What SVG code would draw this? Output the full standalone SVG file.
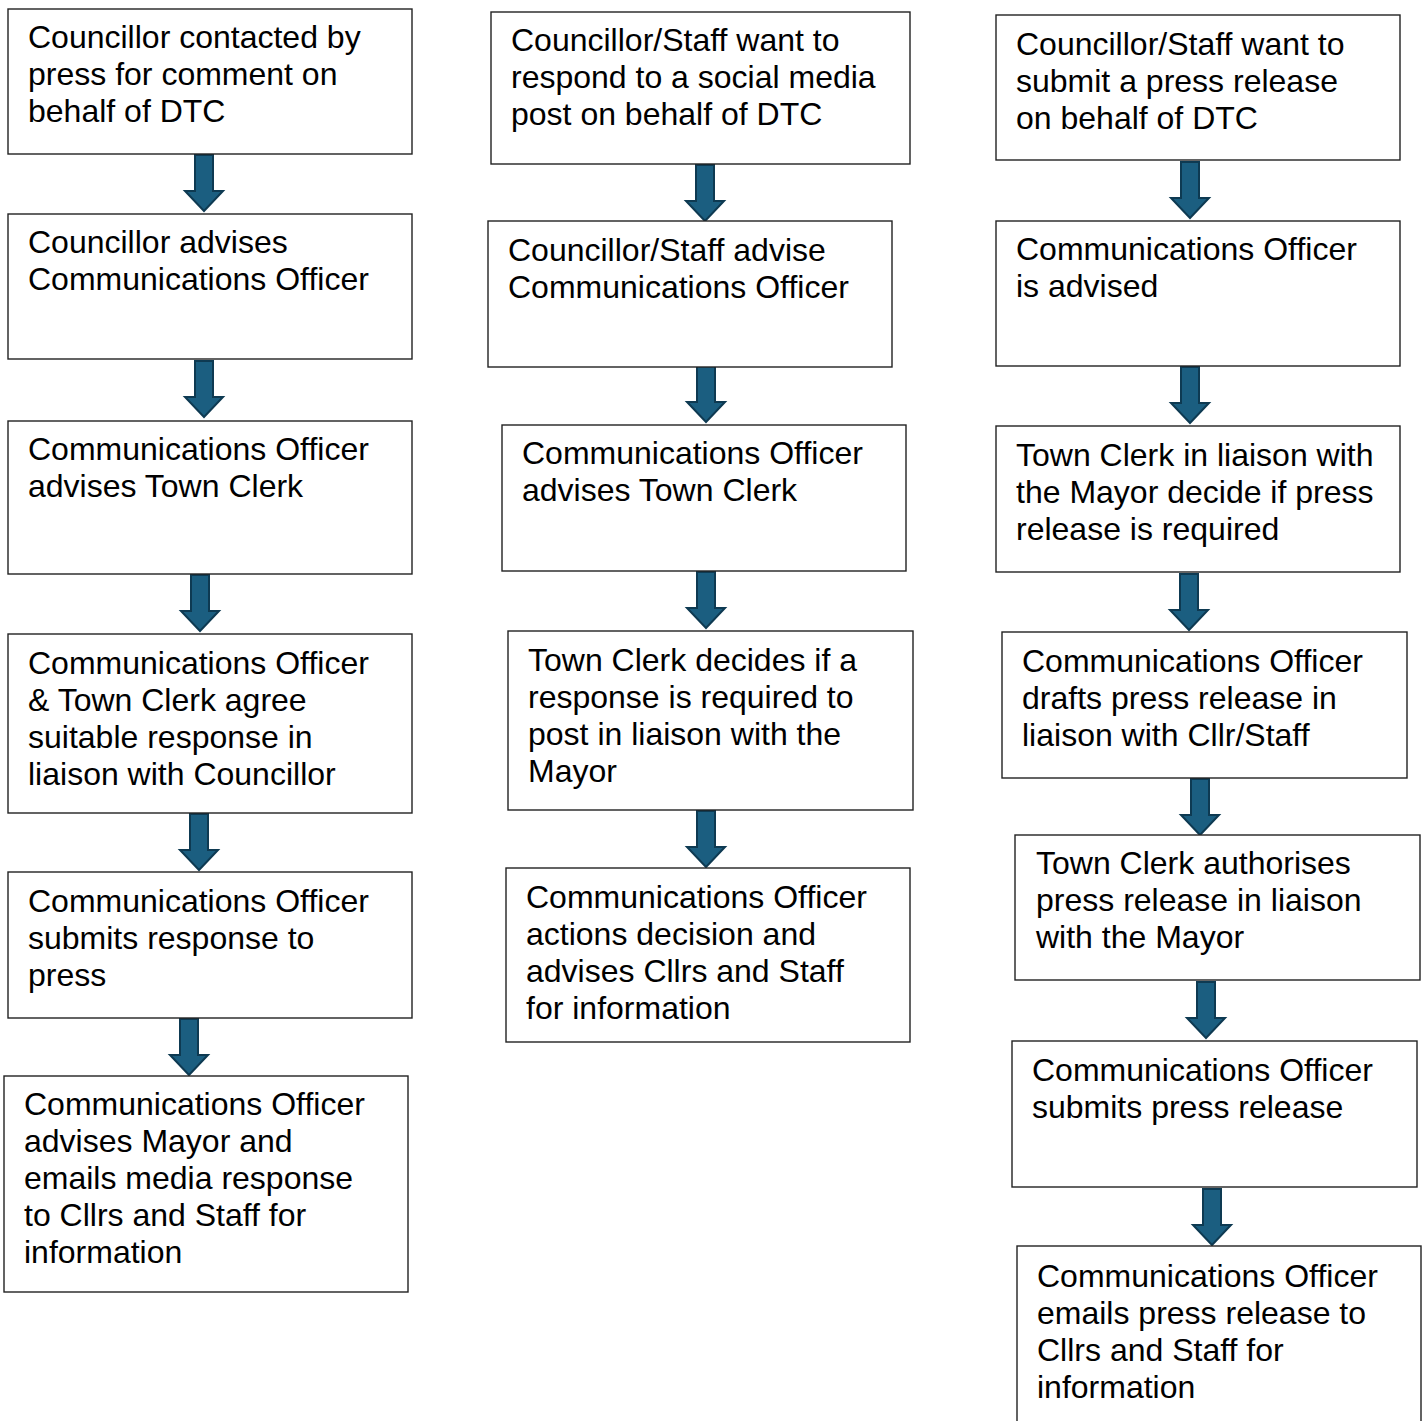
<svg xmlns="http://www.w3.org/2000/svg" xmlns:xlink="http://www.w3.org/1999/xlink" width="1427" height="1421" viewBox="0 0 1427 1421">
<style>
.box{fill:#fff;stroke:#222;stroke-width:1.4}
.t{font-family:"Liberation Sans",Arial,sans-serif;font-size:32px;fill:#000}
.arr{fill:#1b5e80;stroke:#0e3a52;stroke-width:2;stroke-linejoin:miter}
</style>
<defs>
<path id="a" class="arr" d="M-9,0 H9 V36 H19 L0,56 L-19,36 H-9 Z"/>
</defs>
<rect width="1427" height="1421" fill="#fff"/>
<g id="connectors">
<use xlink:href="#a" href="#a" x="204" y="155"/>
<use xlink:href="#a" href="#a" x="204" y="361"/>
<use xlink:href="#a" href="#a" x="200" y="575"/>
<use xlink:href="#a" href="#a" x="199" y="814"/>
<use xlink:href="#a" href="#a" x="189" y="1019"/>
<use xlink:href="#a" href="#a" x="705" y="165"/>
<use xlink:href="#a" href="#a" x="706" y="366"/>
<use xlink:href="#a" href="#a" x="706" y="572"/>
<use xlink:href="#a" href="#a" x="706" y="811"/>
<use xlink:href="#a" href="#a" x="1190" y="162"/>
<use xlink:href="#a" href="#a" x="1190" y="367"/>
<use xlink:href="#a" href="#a" x="1189" y="574"/>
<use xlink:href="#a" href="#a" x="1200" y="779"/>
<use xlink:href="#a" href="#a" x="1206" y="982"/>
<use xlink:href="#a" href="#a" x="1212" y="1189"/>
</g>
<g id="c1n1"><rect class="box" x="8" y="9" width="404" height="145"/><text class="t" x="28" y="48"><tspan x="28">Councillor contacted by</tspan><tspan x="28" dy="37">press for comment on</tspan><tspan x="28" dy="37">behalf of DTC</tspan></text></g>
<g id="c1n2"><rect class="box" x="8" y="214" width="404" height="145"/><text class="t" x="28" y="253"><tspan x="28">Councillor advises</tspan><tspan x="28" dy="37">Communications Officer</tspan></text></g>
<g id="c1n3"><rect class="box" x="8" y="421" width="404" height="153"/><text class="t" x="28" y="460"><tspan x="28">Communications Officer</tspan><tspan x="28" dy="37">advises Town Clerk</tspan></text></g>
<g id="c1n4"><rect class="box" x="8" y="634" width="404" height="179"/><text class="t" x="28" y="674"><tspan x="28">Communications Officer</tspan><tspan x="28" dy="37">&amp; Town Clerk agree</tspan><tspan x="28" dy="37">suitable response in</tspan><tspan x="28" dy="37">liaison with Councillor</tspan></text></g>
<g id="c1n5"><rect class="box" x="8" y="872" width="404" height="146"/><text class="t" x="28" y="912"><tspan x="28">Communications Officer</tspan><tspan x="28" dy="37">submits response to</tspan><tspan x="28" dy="37">press</tspan></text></g>
<g id="c1n6"><rect class="box" x="4" y="1076" width="404" height="216"/><text class="t" x="24" y="1115"><tspan x="24">Communications Officer</tspan><tspan x="24" dy="37">advises Mayor and</tspan><tspan x="24" dy="37">emails media response</tspan><tspan x="24" dy="37">to Cllrs and Staff for</tspan><tspan x="24" dy="37">information</tspan></text></g>
<g id="c2n1"><rect class="box" x="491" y="12" width="419" height="152"/><text class="t" x="511" y="51"><tspan x="511">Councillor/Staff want to</tspan><tspan x="511" dy="37">respond to a social media</tspan><tspan x="511" dy="37">post on behalf of DTC</tspan></text></g>
<g id="c2n2"><rect class="box" x="488" y="221" width="404" height="146"/><text class="t" x="508" y="261"><tspan x="508">Councillor/Staff advise</tspan><tspan x="508" dy="37">Communications Officer</tspan></text></g>
<g id="c2n3"><rect class="box" x="502" y="425" width="404" height="146"/><text class="t" x="522" y="464"><tspan x="522">Communications Officer</tspan><tspan x="522" dy="37">advises Town Clerk</tspan></text></g>
<g id="c2n4"><rect class="box" x="508" y="631" width="405" height="179"/><text class="t" x="528" y="671"><tspan x="528">Town Clerk decides if a</tspan><tspan x="528" dy="37">response is required to</tspan><tspan x="528" dy="37">post in liaison with the</tspan><tspan x="528" dy="37">Mayor</tspan></text></g>
<g id="c2n5"><rect class="box" x="506" y="868" width="404" height="174"/><text class="t" x="526" y="908"><tspan x="526">Communications Officer</tspan><tspan x="526" dy="37">actions decision and</tspan><tspan x="526" dy="37">advises Cllrs and Staff</tspan><tspan x="526" dy="37">for information</tspan></text></g>
<g id="c3n1"><rect class="box" x="996" y="15" width="404" height="145"/><text class="t" x="1016" y="55"><tspan x="1016">Councillor/Staff want to</tspan><tspan x="1016" dy="37">submit a press release</tspan><tspan x="1016" dy="37">on behalf of DTC</tspan></text></g>
<g id="c3n2"><rect class="box" x="996" y="221" width="404" height="145"/><text class="t" x="1016" y="260"><tspan x="1016">Communications Officer</tspan><tspan x="1016" dy="37">is advised</tspan></text></g>
<g id="c3n3"><rect class="box" x="996" y="426" width="404" height="146"/><text class="t" x="1016" y="466"><tspan x="1016">Town Clerk in liaison with</tspan><tspan x="1016" dy="37">the Mayor decide if press</tspan><tspan x="1016" dy="37">release is required</tspan></text></g>
<g id="c3n4"><rect class="box" x="1002" y="632" width="405" height="146"/><text class="t" x="1022" y="672"><tspan x="1022">Communications Officer</tspan><tspan x="1022" dy="37">drafts press release in</tspan><tspan x="1022" dy="37">liaison with Cllr/Staff</tspan></text></g>
<g id="c3n5"><rect class="box" x="1015" y="835" width="405" height="145"/><text class="t" x="1036" y="874"><tspan x="1036">Town Clerk authorises</tspan><tspan x="1036" dy="37">press release in liaison</tspan><tspan x="1036" dy="37">with the Mayor</tspan></text></g>
<g id="c3n6"><rect class="box" x="1012" y="1041" width="405" height="146"/><text class="t" x="1032" y="1081"><tspan x="1032">Communications Officer</tspan><tspan x="1032" dy="37">submits press release</tspan></text></g>
<g id="c3n7"><rect class="box" x="1017" y="1246" width="404" height="200"/><text class="t" x="1037" y="1287"><tspan x="1037">Communications Officer</tspan><tspan x="1037" dy="37">emails press release to</tspan><tspan x="1037" dy="37">Cllrs and Staff for</tspan><tspan x="1037" dy="37">information</tspan></text></g>
</svg>
